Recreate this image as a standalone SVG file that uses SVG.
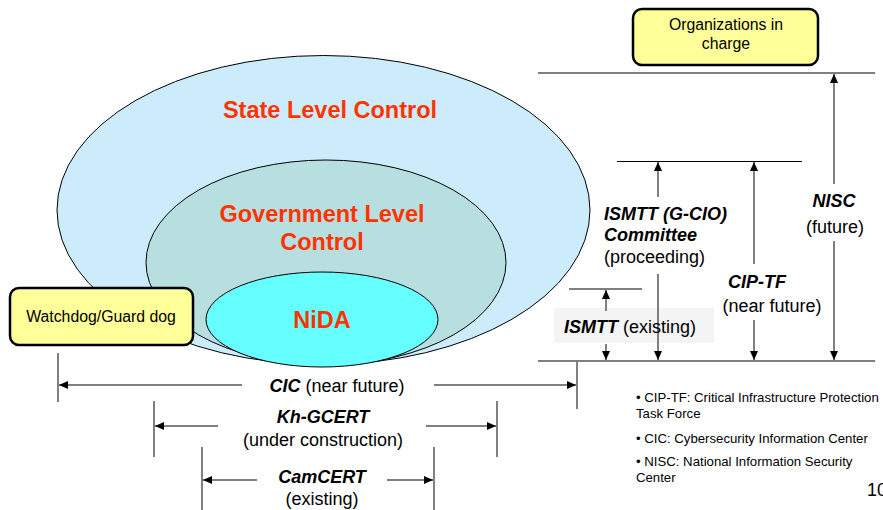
<svg xmlns="http://www.w3.org/2000/svg" width="883" height="510" viewBox="0 0 883 510">
<defs>
<marker id="ah" markerUnits="userSpaceOnUse" markerWidth="10" markerHeight="8" refX="9" refY="4" orient="auto">
<path d="M0,0 L9,4 L0,8 z" fill="#000"/>
</marker>
<style>
.red{font-family:"Liberation Sans",Arial,sans-serif;font-weight:bold;font-size:23.5px;fill:#FF3300;text-anchor:middle;}
.bi{font-weight:bold;font-style:italic;}
.t18{font-family:"Liberation Sans",Arial,sans-serif;font-size:18px;fill:#000;}
.t16{font-family:"Liberation Sans",Arial,sans-serif;font-size:15.8px;fill:#000;text-anchor:middle;}
.note{font-family:"Liberation Sans",Arial,sans-serif;font-size:13.2px;fill:#000;}
.box{fill:#FFFF99;stroke:#000;stroke-width:2.5;}
.ref{stroke:#000;stroke-width:1.2;fill:none;}
.garr{stroke:#808080;stroke-width:2;fill:none;}
.darr{stroke:#000;stroke-width:1.2;fill:none;}
.tick{stroke:#808080;stroke-width:2;fill:none;}
</style>
</defs>
<rect width="883" height="510" fill="#fff"/>

<g id="state-level">
<ellipse cx="323.5" cy="210" rx="266.5" ry="154.5" fill="#CCECFC" stroke="#000" stroke-width="1"/>
<text class="red" x="330" y="118">State Level Control</text>
</g>
<g id="government-level">
<ellipse cx="326" cy="262.5" rx="180" ry="102.5" fill="#B8DFE0" stroke="#000" stroke-width="1"/>
<text class="red" x="322" y="222">Government Level</text>
<text class="red" x="322" y="250">Control</text>
</g>
<g id="nida">
<ellipse cx="322" cy="319.5" rx="116" ry="47.5" fill="#66FFFF" stroke="#000" stroke-width="1"/>
<text class="red" x="322" y="328">NiDA</text>
</g>
<g id="watchdog">
<rect class="box" x="10" y="288" width="183" height="57" rx="9"/>
<text class="t16" x="101" y="322">Watchdog/Guard dog</text>
</g>
<g id="organizations">
<rect class="box" x="633" y="9" width="185" height="56" rx="9"/>
<text class="t16" x="726" y="30">Organizations in</text>
<text class="t16" x="726" y="49">charge</text>
</g>

<g id="connectors">
<line class="ref" x1="538" y1="73" x2="875" y2="73"/>
<line class="ref" x1="617" y1="161.5" x2="802" y2="161.5"/>
<line class="ref" x1="569" y1="289" x2="642" y2="289"/>
<line class="ref" x1="538" y1="361" x2="875" y2="361"/>

<rect x="554" y="308" width="160" height="35" fill="#F4F4F4"/>

<line class="garr" x1="834" y1="184" x2="834" y2="74" marker-end="url(#ah)"/>
<line class="garr" x1="834" y1="241" x2="834" y2="360" marker-end="url(#ah)"/>
<line class="garr" x1="754" y1="264" x2="754" y2="162" marker-end="url(#ah)"/>
<line class="garr" x1="754" y1="320" x2="754" y2="360" marker-end="url(#ah)"/>
<line class="garr" x1="658" y1="197" x2="658" y2="162" marker-end="url(#ah)"/>
<line class="garr" x1="658" y1="274" x2="658" y2="360" marker-end="url(#ah)"/>
<line class="garr" x1="606" y1="311" x2="606" y2="290" marker-end="url(#ah)"/>
<line class="garr" x1="606" y1="344" x2="606" y2="360" marker-end="url(#ah)"/>

<line class="tick" x1="58" y1="353" x2="58" y2="402"/>
<line class="tick" x1="577" y1="362" x2="577" y2="409"/>
<line class="darr" x1="242" y1="385" x2="59" y2="385" marker-end="url(#ah)"/>
<line class="darr" x1="434" y1="385" x2="576" y2="385" marker-end="url(#ah)"/>

<line class="tick" x1="154" y1="401" x2="154" y2="457"/>
<line class="tick" x1="497" y1="401" x2="497" y2="457"/>
<line class="darr" x1="218" y1="426" x2="155" y2="426" marker-end="url(#ah)"/>
<line class="darr" x1="426" y1="426" x2="496" y2="426" marker-end="url(#ah)"/>

<line class="tick" x1="202" y1="447" x2="202" y2="510"/>
<line class="tick" x1="434" y1="447" x2="434" y2="510"/>
<line class="darr" x1="257" y1="480" x2="203" y2="480" marker-end="url(#ah)"/>
<line class="darr" x1="387" y1="480" x2="433" y2="480" marker-end="url(#ah)"/>
</g>

<g id="nisc">
<text class="t18 bi" x="834" y="207" text-anchor="middle">NISC</text>
<text class="t18" x="835" y="233" text-anchor="middle">(future)</text>
</g>
<g id="cip-tf">
<text class="t18 bi" x="757" y="288" text-anchor="middle">CIP-TF</text>
<text class="t18" x="772" y="312" text-anchor="middle">(near future)</text>
</g>
<g id="ismtt-gcio">
<text class="t18 bi" x="604" y="220">ISMTT (G-CIO)</text>
<text class="t18 bi" x="604" y="241">Committee</text>
<text class="t18" x="604" y="263">(proceeding)</text>
</g>
<g id="ismtt">
<text class="t18" x="564" y="333"><tspan class="bi">ISMTT</tspan> (existing)</text>
</g>
<g id="cic">
<text class="t18" x="337" y="392" text-anchor="middle"><tspan class="bi">CIC</tspan> (near future)</text>
</g>
<g id="kh-gcert">
<text class="t18 bi" x="323" y="423" text-anchor="middle">Kh-GCERT</text>
<text class="t18" x="323" y="446" text-anchor="middle">(under construction)</text>
</g>
<g id="camcert">
<text class="t18 bi" x="322" y="483" text-anchor="middle">CamCERT</text>
<text class="t18" x="322" y="505" text-anchor="middle">(existing)</text>
</g>
<g id="notes">
<text class="note" x="636" y="402">• CIP-TF: Critical Infrastructure Protection</text>
<text class="note" x="636" y="418">Task Force</text>
<text class="note" x="636" y="443">• CIC: Cybersecurity Information Center</text>
<text class="note" x="636" y="466">• NISC: National Information Security</text>
<text class="note" x="636" y="482">Center</text>
<text class="t18" x="867" y="496">10</text>
</g>
</svg>
